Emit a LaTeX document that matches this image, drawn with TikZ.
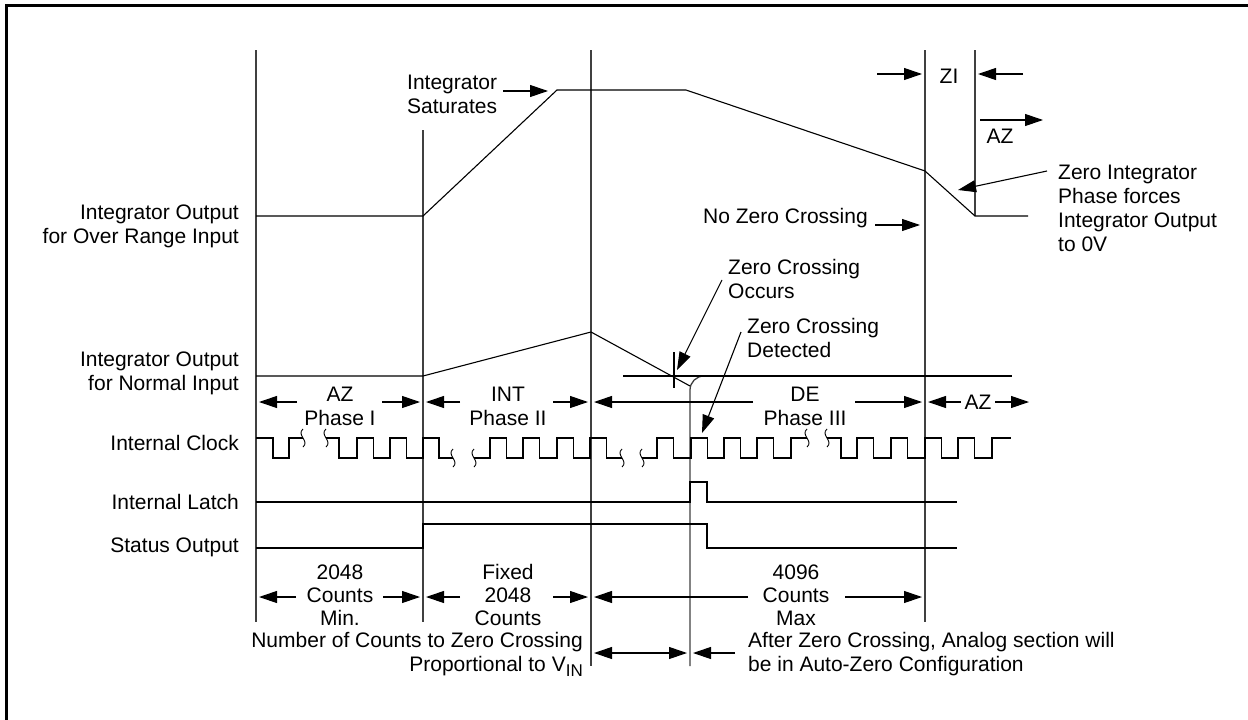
\documentclass[tikz,border=0pt]{standalone}
\usepackage{fontspec}
\setmainfont{Liberation Sans}
\usetikzlibrary{arrows.meta}

\tikzset{
  wave/.style={line width=1.1pt},
  rule/.style={line width=1.3pt,draw=black!75},
  dim/.style={line width=1.1pt,-{Triangle[length=18pt,width=12pt]}},
  dimboth/.style={line width=1.1pt,{Triangle[length=18pt,width=12pt]}-{Triangle[length=18pt,width=12pt]}},
  lbl/.style={anchor=east,align=right,inner sep=0pt},
  note/.style={anchor=west,align=left,inner sep=0pt},
  phase/.style={align=center,inner sep=0pt},
  counts/.style={align=center,inner sep=0pt,font=\fontsize{21}{23}\selectfont},
  squig/.pic={\draw[line width=0.9pt] (0,-9) .. controls (-7,-3) and (7,3) .. (0,9);}
}

\begin{document}
\begin{tikzpicture}[x=1pt,y=-1pt,font=\fontsize{21}{24}\selectfont]
  \useasboundingbox (0,0) rectangle (1248,720);
  % Frame
  \draw[line width=3pt] (6,720) -- (6,5) -- (1248,5);

  % Phase boundaries
  \draw[rule] (256,50) -- (256,622);
  \draw[rule] (423,130) -- (423,622);
  \draw[rule] (591,50) -- (591,666);
  \draw[rule] (925,50) -- (925,622);
  \draw[rule] (975,50) -- (975,216);
  \draw[rule,rounded corners=14pt] (690,666) |- (712,376);

  % Signal names
  \node[lbl] (ovr) at (239,226) {Integrator Output\\for Over Range Input};
  \node[lbl] (nrm) at (239,373) {Integrator Output\\for Normal Input};
  \node[lbl] (clk) at (239,443) {Internal Clock};
  \node[lbl] (lat) at (239,502) {Internal Latch};
  \node[lbl] (sts) at (239,547) {Status Output};

  % Integrator output, over range input
  \draw[wave] (256,216) -- (423,216) -- (557,90) -- (686,90) -- (925,171) -- (975,216) -- (1028,216);
  % Integrator output, normal input
  \draw[wave] (256,376) -- (423,376) -- (591,332) -- (690,386);
  \draw[wave] (623,376) -- (1012,376);
  \draw[wave] (674,352) -- (674,388);

  % Internal clock
  \draw[wave] (256,438) -- (273,438) -- (273,458) -- (289,458) -- (289,438) -- (303,438);
  \draw[wave] (326,438) -- (339,438) -- (339,458)
    \foreach \x in {357,390} {-- (\x,458) -- (\x,438) -- (\x+16.7,438) -- (\x+16.7,458)}
    -- (423,458) -- (423,438) -- (439,438) -- (439,458) -- (453,458);
  \draw[wave] (474,458)
    \foreach \x in {490,523,557,590} {-- (\x,458) -- (\x,438) -- (\x+16.7,438) -- (\x+16.7,458)}
    -- (622,458);
  \draw[wave] (642,458)
    \foreach \x in {657,691,724,757} {-- (\x,458) -- (\x,438) -- (\x+16.7,438) -- (\x+16.7,458)}
    -- (791,458) -- (791,438) -- (807,438);
  \draw[wave] (827,438) -- (841,438) -- (841,458)
    \foreach \x in {857,891,925,958} {-- (\x,458) -- (\x,438) -- (\x+16.7,438) -- (\x+16.7,458)}
    -- (992,458) -- (992,438) -- (1011,438);
  \foreach \p in {(303,438),(326,438),(453,458),(474,458),(622,458),(642,458),(807,438),(827,438)}
    \pic at \p {squig};

  % Internal latch
  \draw[wave] (256,502) -- (690,502) -- (690,482) -- (707,482) -- (707,502) -- (957,502);
  % Status output
  \draw[wave] (256,548) -- (423,548) -- (423,524) -- (707,524) -- (707,548) -- (957,548);

  % Phases
  \node[phase] (azI) at (340,406) {AZ\\Phase I};
  \draw[dim] (297,402) -- (259,402);
  \draw[dim] (382,402) -- (420,402);
  \node[phase] (intII) at (508,406) {INT\\Phase II};
  \draw[dim] (460,402) -- (426,402);
  \draw[dim] (553,402) -- (588,402);
  \node[phase] (deIII) at (805,406) {DE\\Phase III};
  \draw[dim] (753,402) -- (594,402);
  \draw[dim] (855,402) -- (922,402);
  \node[phase] (azend) at (978,402) {AZ};
  \draw[dim] (961,402) -- (928,402);
  \draw[dim] (995,402) -- (1029,402);

  % Counts
  \node[counts] (cntI) at (340,595) {2048\\Counts\\Min.};
  \draw[dim] (296,597) -- (259,597);
  \draw[dim] (383,597) -- (420,597);
  \node[counts] (cntII) at (508,595) {Fixed\\2048\\Counts};
  \draw[dim] (460,597) -- (426,597);
  \draw[dim] (553,597) -- (588,597);
  \node[counts] (cntIII) at (796,595) {4096\\Counts\\Max};
  \draw[dim] (748,597) -- (594,597);
  \draw[dim] (845,597) -- (922,597);

  % Zero crossing count
  \node[lbl] (prop) at (583,654) {Number of Counts to Zero Crossing\\Proportional to V\raisebox{-5pt}{\fontsize{17}{17}\selectfont IN}};
  \draw[dimboth] (594,653) -- (687,653);
  \draw[dim] (735,653) -- (693,653);
  \node[note] (after) at (748,654) {After Zero Crossing, Analog section will\\be in Auto-Zero Configuration};

  % Callouts
  \node[note] (sat) at (407,94) {Integrator\\Saturates};
  \draw[dim] (503,91) -- (548,91);
  \node[phase] (zi) at (949,76) {ZI};
  \draw[dim] (877,74) -- (922,74);
  \draw[dim] (1023,74) -- (978,74);
  \draw[dim] (980,120) -- (1043,120);
  \node[phase] (azzi) at (1000,136) {AZ};
  \node[note] (zint) at (1058,208) {Zero Integrator\\Phase forces\\Integrator Output\\to 0V};
  \draw[dim] (1047,171) -- (958,190);
  \node[note] (nozc) at (703,218) {No Zero Crossing};
  \draw[dim] (875,225) -- (920,225);
  \node[note] (zcocc) at (728,279) {Zero Crossing\\Occurs};
  \draw[dim] (722,280) -- (677,370);
  \node[note] (zcdet) at (747,338) {Zero Crossing\\Detected};
  \draw[dim] (741,332) -- (702,433);
\end{tikzpicture}
\end{document}
